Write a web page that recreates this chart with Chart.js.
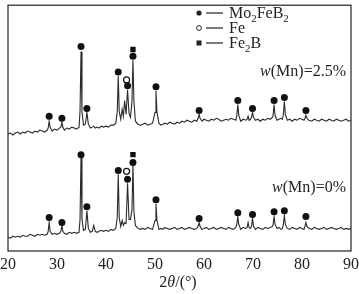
<!DOCTYPE html>
<html>
<head>
<meta charset="utf-8">
<script src="https://cdn.jsdelivr.net/npm/chart.js@4"></script>
<style>
body { margin: 0; background: #fff; }
</style>
</head>
<body>
<canvas id="myChart" width="359" height="294"></canvas>
<script>
// 2theta positions shared by both patterns
const angles = [
    20, 20.5, 21, 21.5, 22, 22.5, 23, 23.5, 24, 24.5, 25, 25.5, 26, 26.5, 27, 27.5, 28,
    28.2, 28.4, 28.6, 29, 29.5, 30, 30.5,
    30.8, 31.0, 31.2, 31.5, 32, 32.5, 33, 33.5, 34, 34.5,
    34.7, 34.9, 35.1, 35.4, 35.8, 36.1, 36.4, 36.8, 37.2, 37.5, 37.8, 38.2, 38.6, 39, 39.5, 40, 40.5, 41, 41.5, 42,
    42.3, 42.5, 42.7, 43.0, 43.3, 43.55, 43.8, 44.1, 44.4, 44.7, 45.0, 45.3, 45.5, 45.7, 46.0, 46.5,
    47, 47.5, 48, 48.5, 49, 49.5, 50.0, 50.2, 50.4, 50.8, 51.2, 51.6, 52, 52.5, 53, 53.5, 54, 54.5, 55, 55.5, 56, 56.5, 57, 57.5, 58, 58.5,
    58.8, 59.0, 59.2, 59.6, 60, 60.5, 61, 61.5, 62, 62.5, 63, 63.5, 64, 64.5, 65, 65.5, 66, 66.5,
    66.7, 66.9, 67.1, 67.5, 68, 68.5, 68.8, 69.0, 69.2, 69.5, 69.7, 69.9, 70.1, 70.5, 71, 71.5, 72, 72.5, 73, 73.5, 74,
    74.1, 74.3, 74.5, 74.9, 75.3, 75.7, 76.0, 76.2, 76.4, 76.6, 77.0, 77.5, 78, 78.5, 79, 79.5, 80, 80.4,
    80.6, 80.8, 81.0, 81.4, 82, 82.5, 83, 83.5, 84, 84.5, 85, 85.5, 86, 86.5, 87, 87.5, 88, 88.5, 89, 89.5, 90
]
// w(Mn)=2.5% pattern (offset upwards)
const mn25 = [
    119, 120, 118, 120, 121, 119, 121, 120, 122, 121, 120, 122, 121, 123, 122, 121, 123,
    125, 132, 126, 122, 124, 123, 125,
    126, 131, 126, 123, 125, 124, 126, 125, 124, 126,
    142, 203, 142, 128, 129, 141, 129, 125, 126, 127, 125, 126, 125, 127, 126, 127, 126, 128, 128, 130,
    142, 178, 142, 134, 144, 137, 153, 139, 164, 140, 136, 152, 194, 152, 132, 129,
    128, 129, 130, 128, 129, 130, 141, 163, 141, 130, 128, 129, 130, 129, 131, 130, 129, 131, 130, 132, 131, 133, 132, 131, 133, 132,
    135, 139, 135, 132, 134, 133, 132, 134, 133, 135, 134, 132, 133, 134, 133, 135, 134, 133,
    138, 149, 138, 132, 134, 133, 134, 137, 133, 134, 136, 141, 136, 133, 134, 132, 134, 133, 135, 134, 136,
    138, 149, 138, 133, 134, 135, 134, 139, 152, 139, 133, 134, 132, 134, 133, 135, 134, 133,
    135, 138, 135, 133, 132, 134, 133, 132, 134, 133, 132, 134, 133, 132, 134, 133, 132, 133, 134, 132, 133
]
// w(Mn)=0% pattern
const mn0 = [
    14, 13, 15, 14, 15, 14, 16, 15, 15, 17, 16, 15, 17, 16, 17, 16, 17,
    20, 29, 20, 17, 18, 17, 18,
    20, 26, 20, 18, 17, 19, 18, 19, 18, 19,
    32, 95, 32, 21, 22, 41, 23, 19, 20, 26, 20, 19, 20, 21, 20, 21, 20, 22, 21, 23,
    34, 78, 34, 25, 31, 26, 29, 28, 69, 32, 32, 42, 88, 40, 26, 23,
    22, 23, 22, 24, 23, 22, 31, 48, 31, 22, 23, 22, 24, 23, 22, 23, 24, 22, 23, 24, 22, 23, 24, 23, 22, 23,
    25, 29, 25, 22, 23, 24, 22, 23, 24, 22, 23, 24, 23, 22, 24, 23, 22, 24,
    27, 35, 27, 22, 24, 23, 24, 29, 24, 23, 25, 33, 25, 22, 24, 23, 22, 24, 23, 24, 25,
    27, 35, 27, 23, 24, 22, 23, 27, 36, 27, 23, 22, 24, 23, 22, 24, 23, 22,
    25, 29, 25, 23, 22, 24, 23, 22, 23, 24, 22, 23, 24, 23, 22, 23, 24, 22, 23, 22, 23
]
const xTicks = [20, 30, 40, 50, 60, 70, 80, 90]

// phase markers [2theta, height]
const mo2feb2Marks = [
    [28.4, 137], [31.0, 135], [34.9, 208], [36.1, 145], [42.5, 182], [44.4, 168], [45.5, 198], [50.2, 167],
    [59.0, 143], [66.9, 153], [69.9, 145], [74.3, 153], [76.4, 156], [80.8, 143],
    [28.4, 34], [31.0, 29], [34.9, 98], [36.1, 45], [42.5, 82], [44.4, 73], [45.5, 90], [50.2, 52],
    [59.0, 33], [66.9, 39], [69.9, 37], [74.3, 40], [76.4, 41], [80.8, 35]
]
const feMarks = [[44.2, 174], [44.2, 81]]
const fe2bMarks = [[45.5, 205], [45.5, 98]]

const serif = "'Liberation Serif', 'DejaVu Serif', serif"
const ink = '#222'

const toPts = arr => arr.map(p => ({ x: p[0], y: p[1] }))

// draws text with subscript parts, returns end x
function richText(ctx, parts, x, y, size) {
    for (const p of parts) {
        const s = p.sub ? size * 0.68 : size
        ctx.font = (p.it ? 'italic ' : '') + s + 'px ' + serif
        ctx.fillText(p.t, x, y + (p.sub ? size * 0.22 : 0))
        x += ctx.measureText(p.t).width
    }
    return x
}
function richWidth(ctx, parts, size) {
    let w = 0
    for (const p of parts) {
        const s = p.sub ? size * 0.68 : size
        ctx.font = (p.it ? 'italic ' : '') + s + 'px ' + serif
        w += ctx.measureText(p.t).width
    }
    return w
}

const overlay = {
    id: 'overlay',
    afterDraw(chart) {
        const { ctx, chartArea: a } = chart
        ctx.save()
        ctx.strokeStyle = ink
        ctx.lineWidth = 1.2
        ctx.strokeRect(a.left, a.top, a.right - a.left, a.bottom - a.top)

        ctx.fillStyle = ink
        ctx.textBaseline = 'alphabetic'
        ctx.textAlign = 'left'
        const rows = [
            { y: 13, parts: [{ t: 'Mo' }, { t: '2', sub: true }, { t: 'FeB' }, { t: '2', sub: true }], kind: 'dot' },
            { y: 28, parts: [{ t: 'Fe' }], kind: 'ring' },
            { y: 43, parts: [{ t: 'Fe' }, { t: '2', sub: true }, { t: 'B' }], kind: 'sq' }
        ]
        for (const r of rows) {
            ctx.beginPath()
            if (r.kind === 'dot') {
                ctx.arc(199, r.y, 2.6, 0, Math.PI * 2)
                ctx.fill()
            } else if (r.kind === 'ring') {
                ctx.arc(199, r.y, 2.4, 0, Math.PI * 2)
                ctx.lineWidth = 1
                ctx.stroke()
            } else {
                ctx.fillRect(196.5, r.y - 2.5, 5, 5)
            }
            ctx.beginPath()
            ctx.lineWidth = 1.2
            ctx.moveTo(206, r.y)
            ctx.lineTo(223, r.y)
            ctx.stroke()
            richText(ctx, r.parts, 229, r.y + 5, 16)
        }

        const lab1 = [{ t: 'w', it: true }, { t: '(Mn)=2.5%' }]
        richText(ctx, lab1, 346 - richWidth(ctx, lab1, 16), 76, 16)
        const lab2 = [{ t: 'w', it: true }, { t: '(Mn)=0%' }]
        richText(ctx, lab2, 346 - richWidth(ctx, lab2, 16), 192, 16)

        const title = [{ t: '2' }, { t: 'θ', it: true }, { t: '/(°)' }]
        richText(ctx, title, 178 - richWidth(ctx, title, 16) / 2, 287, 16)
        ctx.restore()
    }
}

const data = {
    datasets: [
        {
            type: 'scatter', data: toPts(mo2feb2Marks), pointStyle: 'circle',
            pointRadius: 3.5, backgroundColor: '#111', borderWidth: 0
        },
        {
            type: 'scatter', data: toPts(feMarks), pointStyle: 'circle',
            pointRadius: 3, backgroundColor: '#fff', borderColor: '#111', borderWidth: 1.2
        },
        {
            type: 'scatter', data: toPts(fe2bMarks), pointStyle: 'rect',
            pointRadius: 3.8, backgroundColor: '#111', borderWidth: 0
        },
        {
            type: 'line', data: angles.map((a, i) => ({ x: a, y: mn25[i] })),
            borderColor: '#2a2a2a', borderWidth: 1.1, pointRadius: 0, tension: 0
        },
        {
            type: 'line', data: angles.map((a, i) => ({ x: a, y: mn0[i] })),
            borderColor: '#2a2a2a', borderWidth: 1.1, pointRadius: 0, tension: 0
        }
    ]
}

const config = {
    type: 'scatter',
    data: data,
    options: {
        responsive: false,
        animation: false,
        layout: { padding: { left: 8, right: 8, top: 1, bottom: 0 } },
        plugins: { legend: { display: false }, tooltip: { enabled: false } },
        scales: {
            x: {
                type: 'linear', min: 20, max: 90,
                afterBuildTicks: s => { s.ticks = xTicks.map(v => ({ value: v })) },
                afterFit: s => { s.height = 43; s.paddingLeft = 0; s.paddingRight = 0 },
                grid: { display: false, drawTicks: false },
                border: { display: false },
                ticks: { color: ink, padding: 4, maxRotation: 0, font: { family: serif, size: 16 } }
            },
            y: {
                display: false, min: 0, max: 250
            }
        }
    },
    plugins: [overlay]
}

const ctx = document.getElementById('myChart').getContext('2d')
new Chart(ctx, config)
</script>
</body>
</html>
